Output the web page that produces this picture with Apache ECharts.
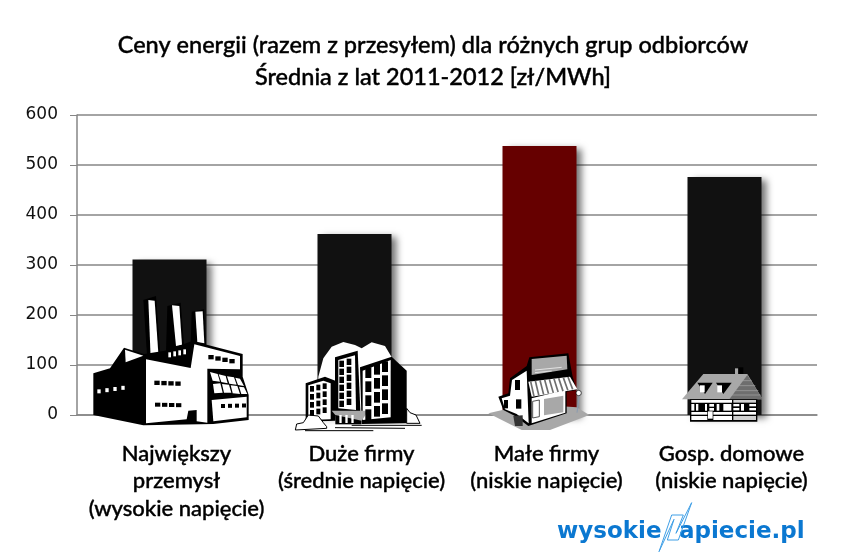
<!DOCTYPE html>
<html>
<head>
<meta charset="utf-8">
<style>html,body{margin:0;padding:0;background:#fff}#chart{width:853px;height:558px}</style>
<script src="https://cdn.jsdelivr.net/npm/echarts@6/dist/echarts.min.js"></script>
</head>
<body>
<div id="chart"></div>
<script>
// dane
var categories = ['Największy\nprzemysł\n(wysokie napięcie)', 'Duże firmy\n(średnie napięcie)', 'Małe firmy\n(niskie napięcie)', 'Gosp. domowe\n(niskie napięcie)'];
var prices = [311, 362, 538, 476];
var titleLines = ['Ceny energii (razem z przesyłem) dla różnych grup odbiorców', 'Średnia z lat 2011-2012 [zł/MWh]'];
var highlighted = 2;

var K = '#000', W = '#fff', G = '#a8a8a8', D = '#6e6e6e';

function poly(points, fill, stroke, lw) {
    return { type: 'polygon', z: 20, shape: { points: points }, style: { fill: fill || 'none', stroke: stroke || null, lineWidth: lw || 0 } };
}
function rect(x, y, w, h, fill) {
    return { type: 'rect', z: 20, shape: { x: x, y: y, width: w, height: h }, style: { fill: fill } };
}
function line(x1, y1, x2, y2, color, lw) {
    return { type: 'line', z: 20, shape: { x1: x1, y1: y1, x2: x2, y2: y2 }, style: { stroke: color, lineWidth: lw } };
}
function circle(cx, cy, r, fill, stroke, lw) {
    return { type: 'circle', z: 20, shape: { cx: cx, cy: cy, r: r }, style: { fill: fill, stroke: stroke || null, lineWidth: lw || 0 } };
}
// rzad okienek, skos dy na kazde okno
function windows(x, y, n, w, h, gap, dy, fill) {
    var out = [];
    for (var i = 0; i < n; i++) {
        out.push(rect(x + i * (w + gap), y + i * dy, w, h, fill));
    }
    return out;
}
function group(x, y, children) {
    return { type: 'group', x: x, y: y, scaleX: 1 / 3, scaleY: 1 / 3, children: children };
}

// fabryka
var factory = [
    poly([[250,60],[288,48],[302,240],[262,240]], K),
    poly([[265,60],[284,62],[296,234],[272,234]], W),
    poly([[322,78],[362,68],[372,195],[318,215]], K),
    poly([[336,76],[358,78],[366,194],[348,198]], W),
    poly([[395,95],[432,88],[438,195],[392,195]], K),
    poly([[406,95],[428,94],[433,190],[412,186]], W),
    poly([[100,280],[150,265],[192,203],[252,222],[315,212],[397,183],[548,222],[548,290],[566,345],[566,420],[460,432],[250,436],[100,405]], K),
    poly([[195,209],[250,227],[197,247]], W),
    poly([[258,238],[392,264],[403,193],[540,228],[540,268],[442,266],[442,428],[410,424],[410,390],[385,392],[380,418],[258,430]], W),
    poly([[455,360],[560,350],[560,412],[460,424]], W),
    poly([[450,276],[473,282],[480,305],[458,302]], W), poly([[476,283],[497,288],[503,310],[484,306]], W),
    poly([[501,289],[522,292],[530,314],[508,311]], W), poly([[526,293],[540,296],[552,318],[534,315]], W),
    poly([[459,312],[481,310],[488,338],[463,340]], W), poly([[486,312],[507,314],[514,338],[492,338]], W),
    poly([[512,316],[532,318],[540,342],[518,340]], W), poly([[537,320],[552,322],[562,342],[544,342]], W)
].concat(
    windows(112, 328, 4, 10, 12, 14, -3.5, W),
    windows(283, 302, 4, 16, 13, 5, 0.8, K),
    windows(285, 368, 4, 16, 12, 5, 0.5, K),
    windows(445, 225, 4, 16, 13, 5, 4, K),
    windows(483, 372, 4, 12, 12, 9, -0.5, K),
    windows(325, 217, 4, 8, 15, 7, -3, W)
);

// biurowce
var office = [
    poly([[775,290],[790,235],[815,200],[850,186],[885,195],[905,205],[935,187],[975,198],[997,235],[1042,272],[1042,400],[775,400]], W),
    poly([[900,262],[995,230],[1040,272],[1040,430],[905,432]], K),
    poly([[908,272],[992,240],[992,412],[908,420]], W),
    poly([[737,310],[795,290],[826,302],[826,422],[737,425]], K),
    poly([[745,316],[790,302],[812,310],[812,418],[745,420]], W),
    poly([[825,232],[893,212],[902,412],[825,405]], K),
    poly([[835,240],[885,226],[888,390],[835,385]], W),
    rect(826, 405, 78, 28, K),
    poly([[815,392],[925,392],[905,422],[826,405]], G),
    rect(838, 405, 7, 24, W), rect(856, 405, 7, 24, W), rect(874, 405, 7, 24, W),
    line(735, 452, 940, 452, K, 3), line(825, 443, 1035, 445, K, 3), line(875, 436, 1085, 436, K, 3),
    poly([[706,450],[710,432],[730,428],[745,405],[775,408],[790,428],[800,440],[800,445]], W, K, 3),
    poly([[1040,385],[1050,398],[1068,405],[1080,430],[1040,430]], W, K, 3)
];
[[838,242],[860,236]].forEach(function (c) {
    for (var r = 0; r < 6; r++) { office.push(rect(c[0], c[1] + r * 24, 14, 19, K)); }
});
[[916,262],[942,252],[966,244]].forEach(function (c) {
    for (var r = 0; r < 4; r++) { office.push(rect(c[0], c[1] + r * 42, 18, 32, K)); }
});
[[750,318],[769,314],[788,310]].forEach(function (c) {
    for (var r = 0; r < 4; r++) { office.push(rect(c[0], c[1] + r * 24, 12, 17, K)); }
});

// sklep
var shop = [
    poly([[85,250],[205,222],[350,232],[388,255],[270,300],[185,300]], G),
    line(358, 195, 351, 248, '#8a9bb0', 3),
    circle(356, 189, 8, W, K, 2),
    poly([[115,200],[145,190],[150,145],[200,108],[208,82],[325,70],[338,140],[350,180],[320,185],[320,250],[205,288],[165,258],[130,240]], K),
    poly([[125,205],[150,197],[156,150],[200,122],[206,280],[170,252],[135,238]], W),
    poly([[215,87],[320,77],[322,118],[215,135]], G),
    line(225, 120, 305, 112, W, 2), line(225, 128, 275, 123, W, 2),
    poly([[215,205],[316,180],[316,248],[215,280]], W),
    poly([[252,207],[310,197],[310,247],[252,256]], G),
    poly([[218,214],[238,210],[238,260],[218,264]], W, K, 2),
    poly([[205,155],[330,140],[352,178],[215,200]], W),
    rect(165, 150, 15, 30, K), rect(168, 208, 16, 28, K), rect(132, 210, 12, 25, K),
    poly([[160,258],[188,256],[188,288],[165,288]], '#333')
];
[0, 1, 2, 3, 4, 5, 6, 7, 8].forEach(function (i) {
    shop.push(line(212 + i * 14, 154 - i * 1.6, 222 + i * 14.5, 199 - i * 2.6, D, 5));
});

// dom
var house = [
    rect(825, 115, 10, 30, G), rect(835, 112, 15, 25, K),
    poly([[666,208],[730,132],[862,132],[908,208]], G),
    poly([[808,208],[862,135],[908,208]], D),
    line(845, 152, 875, 152, G, 2), line(833, 167, 886, 167, G, 2), line(822, 182, 895, 182, G, 2), line(815, 195, 902, 195, G, 2),
    poly([[712,158],[758,158],[735,192]], K), poly([[768,158],[815,158],[790,192]], K),
    rect(720, 166, 14, 21, W), rect(772, 166, 14, 21, W),
    rect(690, 208, 202, 67, K),
    // belki sciany
    rect(694, 210, 122, 8, W), rect(820, 210, 68, 8, '#d0d0d0'),
    rect(694, 222, 9, 20, W), rect(708, 222, 7, 20, W), rect(735, 222, 6, 20, W),
    rect(748, 222, 14, 8, W), rect(748, 234, 14, 8, W), rect(770, 222, 8, 20, W), rect(790, 222, 24, 20, W),
    rect(820, 222, 18, 7, W), rect(820, 234, 18, 7, W), rect(843, 222, 9, 20, W), rect(868, 222, 20, 7, W), rect(868, 234, 20, 7, W),
    rect(694, 246, 48, 8, W), rect(760, 246, 56, 8, W), rect(820, 246, 68, 8, W),
    rect(744, 244, 14, 22, W),
    rect(694, 258, 48, 12, W), rect(760, 258, 56, 12, W), rect(820, 258, 68, 12, '#d0d0d0')
];

// logo
var logoBlue = '#0b78d1';
var logo = [
    { type: 'text', z: 20, style: { x: 557, y: 532, text: 'wysokie', fill: logoBlue, font: 'bold 23px "DejaVu Sans"', textVerticalAlign: 'middle' } },
    { type: 'text', z: 20, style: { x: 679, y: 532, text: 'apiecie.pl', fill: logoBlue, font: 'bold 23px "DejaVu Sans"', textVerticalAlign: 'middle' } },
    { type: 'polyline', z: 21, x: 540, y: 500, scaleX: 1 / 3, scaleY: 1 / 3,
      shape: { points: [[357,155],[395,45],[430,45],[408,100],[455,8],[415,120],[382,120],[402,58],[357,155]] },
      style: { fill: 'none', stroke: '#3f9fe6', lineWidth: 3 } }
];

var chart = echarts.init(document.getElementById('chart'));
chart.setOption({
    animation: false,
    backgroundColor: '#fff',
    title: {
        text: titleLines.join('\n'),
        left: 428,
        top: 24,
        textAlign: 'center',
        textStyle: { fontFamily: 'Lato', fontSize: 23.5, fontWeight: 500, color: '#000', lineHeight: 32, textBorderColor: '#000', textBorderWidth: 0.4 }
    },
    grid: { left: 77, right: 36, top: 115, bottom: 143 },
    xAxis: {
        type: 'category',
        data: categories,
        axisLine: { lineStyle: { color: '#868686', width: 1.5 } },
        axisTick: { alignWithLabel: false, length: 9, lineStyle: { color: '#868686', width: 1 } },
        axisLabel: { fontFamily: 'Lato', fontSize: 22, fontWeight: 500, color: '#000', lineHeight: 27.5, margin: 25, interval: 0, padding: [0, 0, 0, 14], textBorderColor: '#000', textBorderWidth: 0.4 }
    },
    yAxis: {
        type: 'value',
        min: 0,
        max: 600,
        interval: 100,
        axisLine: { show: true, lineStyle: { color: '#868686', width: 1.5 } },
        axisTick: { show: true, length: 7, lineStyle: { color: '#868686', width: 1 } },
        axisLabel: { fontFamily: 'DejaVu Sans', fontSize: 17, color: '#111', margin: 19 },
        splitLine: { lineStyle: { color: '#868686', width: 1.5 } }
    },
    series: [{
        type: 'bar',
        data: prices,
        barWidth: '40%',
        itemStyle: {
            color: function (p) { return p.dataIndex === highlighted ? '#660000' : '#111111'; },
            shadowColor: 'rgba(0,0,0,0.55)',
            shadowBlur: 7,
            shadowOffsetX: 5,
            shadowOffsetY: 3
        }
    }],
    graphic: [
        group(60, 280, factory),
        group(60, 280, office),
        group(460, 330, shop),
        group(460, 330, house)
    ].concat(logo)
});
</script>
</body>
</html>
